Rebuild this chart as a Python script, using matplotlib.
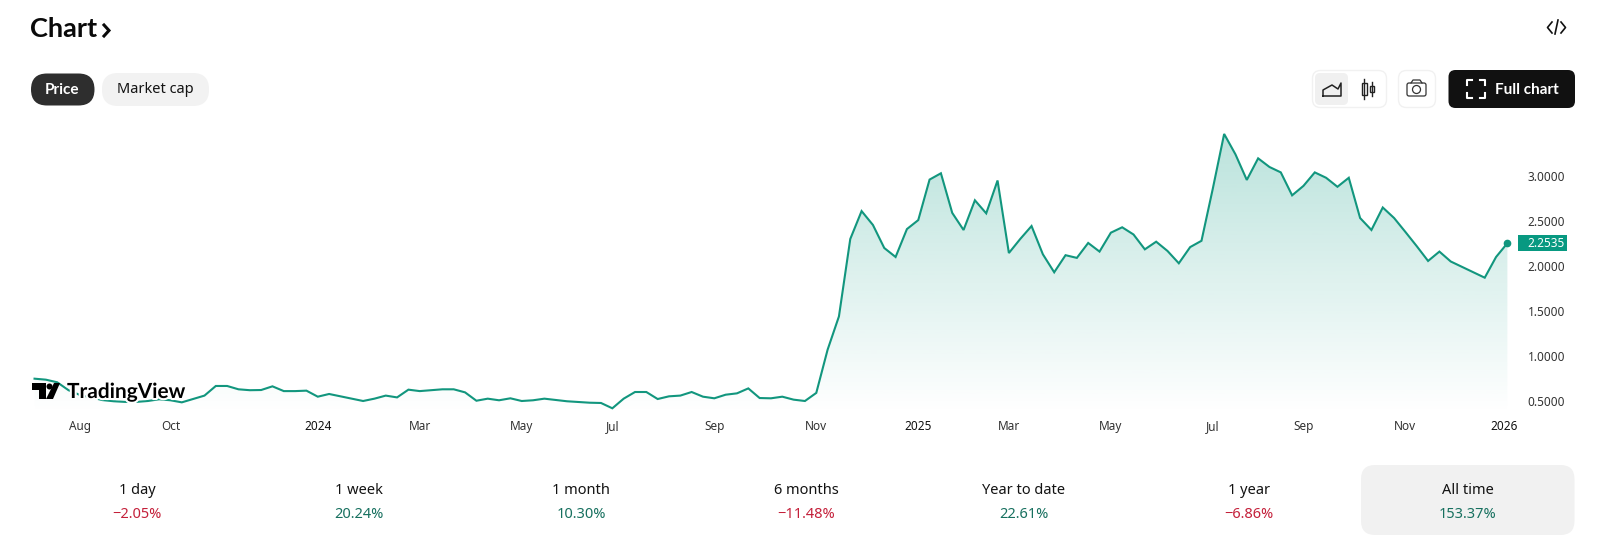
import numpy as np
import matplotlib
matplotlib.use("Agg")
import matplotlib.pyplot as plt
import matplotlib.patheffects as pe
from matplotlib.patches import FancyBboxPatch, Polygon, Rectangle, Circle

plt.rcParams["font.family"] = ["Noto Sans", "DejaVu Sans"]

# ----- data -----
prices = [
    0.748, 0.737, 0.708, 0.620, 0.567, 0.540, 0.510, 0.497, 0.490, 0.490,
    0.500, 0.519, 0.508, 0.485, 0.522, 0.560, 0.667, 0.667, 0.630, 0.620,
    0.622, 0.663, 0.610, 0.610, 0.615, 0.548, 0.578, 0.552, 0.526, 0.500,
    0.526, 0.560, 0.540, 0.626, 0.610, 0.620, 0.630, 0.630, 0.596, 0.503,
    0.526, 0.508, 0.530, 0.500, 0.508, 0.526, 0.511, 0.497, 0.489, 0.481,
    0.478, 0.419, 0.526, 0.600, 0.600, 0.522, 0.552, 0.560, 0.600, 0.548,
    0.530, 0.570, 0.585, 0.640, 0.533, 0.530, 0.548, 0.515, 0.500, 0.590,
    1.070, 1.440, 2.300, 2.610, 2.456, 2.200, 2.100, 2.410, 2.510, 2.960,
    3.030, 2.590, 2.400, 2.730, 2.585, 2.950, 2.144, 2.300, 2.444, 2.130,
    1.930, 2.120, 2.090, 2.256, 2.160, 2.370, 2.430, 2.350, 2.185, 2.270,
    2.167, 2.030, 2.210, 2.280, 2.860, 3.467, 3.240, 2.956, 3.196, 3.100,
    3.040, 2.785, 2.890, 3.040, 2.980, 2.880, 2.980, 2.533, 2.400, 2.650,
    2.533, 2.378, 2.220, 2.056, 2.160, 2.050, 1.990, 1.930, 1.870, 2.100,
    2.2535,
]
x_tick_pos = [4, 12, 25, 34, 43, 51, 60, 69, 78, 86, 95, 104, 112, 121, 129.7]
x_tick_labels = ["Aug", "Oct", "2024", "Mar", "May", "Jul", "Sep", "Nov", "2025",
                 "Mar", "May", "Jul", "Sep", "Nov", "2026"]
y_ticks = [0.5, 1.0, 1.5, 2.0, 2.5, 3.0]

periods = ["1 day", "1 week", "1 month", "6 months", "Year to date", "1 year", "All time"]
changes = ["\u22122.05%", "20.24%", "10.30%", "\u221211.48%", "22.61%", "\u22126.86%", "153.37%"]
period_x = [137, 359, 581, 806, 1024, 1249, 1468]

GREEN = "#089981"
TEXT = "#131313"
UP = "#17705f"
DOWN = "#c4203a"

fig = plt.figure(figsize=(16, 5.36), dpi=100, facecolor="white")

# ----- price chart -----
ax = fig.add_axes([30 / 1600, 1 - 414 / 536, (1516 - 30) / 1600, (414 - 120) / 536])
xs = np.arange(len(prices))
line, = ax.plot(xs, prices, color="#12967e", lw=1.5, solid_joinstyle="miter", zorder=3)
ax.plot(xs[-1], prices[-1], "o", color="#12967e", ms=4.5, zorder=4)

# vertical fade under the line
poly = ax.fill_between(xs, prices, 0, color="none")
grad = np.zeros((256, 1, 4))
grad[..., :3] = matplotlib.colors.to_rgb(GREEN)
grad[..., 3] = np.linspace(0.29, 0, 256)[:, None]
img = ax.imshow(grad, aspect="auto", extent=(-0.4, 130.76, 0.3556, 3.622), origin="upper", zorder=1)
img.set_clip_path(poly.get_paths()[0], transform=ax.transData)

ax.set_xlim(-0.4, 130.76)
ax.set_ylim(0.3556, 3.622)
for s in ax.spines.values():
    s.set_visible(False)
ax.patch.set_alpha(0)

ax.yaxis.tick_right()
ax.set_yticks(y_ticks, [f"{v:.4f}" for v in y_ticks])
ax.set_xticks(x_tick_pos, x_tick_labels)
ax.tick_params(axis="y", length=0, pad=8.5, labelsize=8.5, labelcolor="#333333")
ax.tick_params(axis="x", length=0, pad=11.5, labelsize=8.5, labelcolor="#333333")
for lab in ax.get_xticklabels():
    lab.set_va("baseline")
    if lab.get_text().isdigit():
        lab.set_fontweight("bold")
        lab.set_color("#111111")

# last price tag on the value axis
ax.add_patch(Rectangle((1.0013, prices[-1] - 0.089), 0.0330, 0.178, transform=ax.get_yaxis_transform(),
                       fc=GREEN, ec="none", clip_on=False, zorder=5))
ax.annotate(f"{prices[-1]:.4f}", xy=(1, prices[-1]), xycoords=ax.get_yaxis_transform(),
            xytext=(8.5, 0), textcoords="offset points", va="center", ha="left",
            fontsize=8.5, fontweight="bold", color="white", annotation_clip=False, zorder=6)

# ----- page furniture, laid out in pixels -----
ui = fig.add_axes([0, 0, 1, 1], zorder=5)
ui.set_xlim(0, 1600)
ui.set_ylim(536, 0)
ui.axis("off")


def box(x0, y0, x1, y1, r, fc, ec="none", lw=1):
    ui.add_patch(FancyBboxPatch((x0 + r, y0 + r), x1 - x0 - 2 * r, y1 - y0 - 2 * r,
                                boxstyle=f"round,pad={r},rounding_size={r}",
                                fc=fc, ec=ec, lw=lw))


ui.text(30, 37, "Chart", fontsize=19.5, family="Lato", fontweight="bold", color="#0a0a0a", va="baseline")
ui.plot([104, 109, 104], [25, 30.5, 36], color="#0a0a0a", lw=2.2, solid_joinstyle="miter")
ui.plot([1552, 1547.5, 1552], [22, 27.5, 33], color="#111111", lw=1.2)
ui.plot([1561, 1565.5, 1561], [22, 27.5, 33], color="#111111", lw=1.2)
ui.plot([1555, 1558], [34, 20], color="#111111", lw=1.2)

box(31, 73.5, 94.5, 105.5, 16, "#2e2e2e")
ui.text(62.5, 89.5, "Price", color="white", fontsize=11, family="Lato", fontweight="bold", ha="center", va="center")
box(102, 73, 209, 106, 16, "#f2f2f2")
ui.text(155.5, 89.5, "Market cap", color=TEXT, fontsize=10.5, ha="center", va="center")

# chart type toggle
box(1312.5, 70.5, 1386.5, 107.5, 8, "white", "#f1f1f1", 1)
box(1315, 73, 1348, 105, 5, "#f0f0f0")
ui.plot([1323, 1323, 1332, 1338, 1341, 1341, 1323], [96, 90, 85, 89, 83, 96, 96],
        color="#222222", lw=1.1)
ui.plot([1364, 1364], [79, 99], color="#222222", lw=1)
ui.add_patch(Rectangle((1361.5, 83), 5, 12, fc="white", ec="#222222", lw=1))
ui.plot([1371.5, 1371.5], [82, 96], color="#222222", lw=1)
ui.add_patch(Rectangle((1369.5, 86), 4, 6, fc="white", ec="#222222", lw=1))

# camera
box(1398.5, 70.5, 1435.5, 107.5, 8, "white", "#f1f1f1", 1)
box(1407, 83, 1426, 96, 2, "white", "#333333", 0.9)
ui.plot([1411, 1413, 1420, 1422], [83, 80, 80, 83], color="#333333", lw=0.9)
ui.add_patch(Circle((1416.5, 89.5), 4, fc="white", ec="#333333", lw=0.9))

# full chart button
box(1448.5, 70, 1575, 108, 7, "#111111")
for cx, cy, dx, dy in [(1467, 80, 1, 1), (1485, 80, -1, 1), (1467, 98, 1, -1), (1485, 98, -1, -1)]:
    ui.plot([cx, cx, cx + 5 * dx], [cy + 5 * dy, cy, cy], color="white", lw=1.5)
ui.text(1527, 89.5, "Full chart", color="white", fontsize=11, family="Lato", fontweight="bold", ha="center", va="center")

# watermark sits on top of the line
halo = [pe.withStroke(linewidth=3, foreground="white")]
ui.text(67, 398, "TradingView", fontsize=15, family="Lato", fontweight="bold", color="#000000",
        va="baseline", path_effects=halo)
ui.add_patch(Polygon([(32, 383), (46, 383), (46, 399), (39, 399), (39, 390), (32, 390)], fc="black"))
ui.add_patch(Circle((49.5, 386.5), 3, fc="black"))
ui.add_patch(Polygon([(54, 383), (60, 383), (53, 399), (46, 399)], fc="black"))

# performance strip
box(1361, 465, 1574.5, 535, 14, "#f1f1f1")
for px, name, chg in zip(period_x, periods, changes):
    ui.text(px, 491, name, fontsize=10.5, color=TEXT, ha="center", va="center")
    ui.text(px, 514, chg, fontsize=10.5, color=DOWN if chg[0] == "\u2212" else UP, ha="center", va="center")

fig.savefig("out.png", dpi=100)
